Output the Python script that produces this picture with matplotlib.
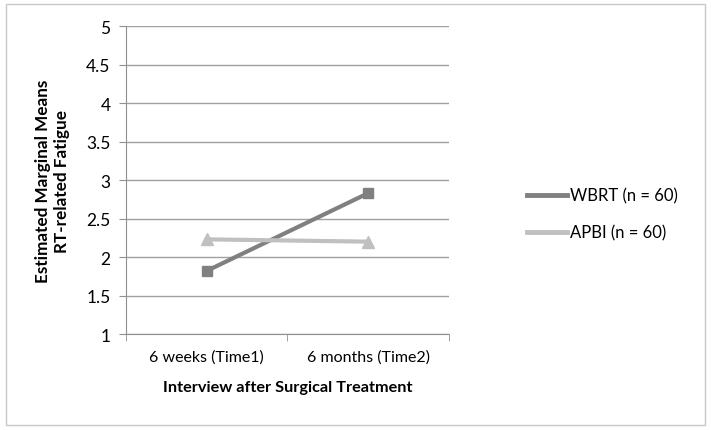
import matplotlib.pyplot as plt
from matplotlib.lines import Line2D
from matplotlib.patches import Rectangle

plt.rcParams['font.family'] = ['Lato', 'DejaVu Sans']

categories = ["6 weeks (Time1)", "6 months (Time2)"]
wbrt = [1.82, 2.83]
apbi = [2.23, 2.20]
yticks = [1, 1.5, 2, 2.5, 3, 3.5, 4, 4.5, 5]
ytick_labels = ["1", "1.5", "2", "2.5", "3", "3.5", "4", "4.5", "5"]
series_names = ["WBRT (n = 60)", "APBI (n = 60)"]
colors = ["#808080", "#c0c0c0"]

fig = plt.figure(figsize=(7.11, 4.31), dpi=100)
ax = fig.add_axes([0.177, 0.2227, 0.4545, 0.7143])

x = [1, 2]
ax.plot(x, wbrt, color=colors[0], lw=3, marker="s", markersize=7, zorder=3)
ax.plot(x, apbi, color=colors[1], lw=3, marker="^", markersize=8, zorder=3)

ax.set_xlim(0.5, 2.5)
ax.set_ylim(1, 5)
ax.set_yticks(yticks)
ax.set_yticklabels(ytick_labels, fontsize=12.5)
ax.set_xticks(x)
ax.set_xticklabels(categories, fontsize=11.5)
ax.set_xticks([0.5, 1.5, 2.5], minor=True)
ax.tick_params(axis="x", which="major", length=0, pad=11)
ax.tick_params(axis="x", which="minor", length=5, color="#909090")
ax.tick_params(axis="y", length=5, color="#909090", pad=6)

ax.grid(axis="y", color="#a0a0a0", lw=1)
ax.set_axisbelow(True)
for s in ["top", "right"]:
    ax.spines[s].set_visible(False)
for s in ["left", "bottom"]:
    ax.spines[s].set_color("#909090")

ax.set_xlabel("Interview after Surgical Treatment", fontsize=11.7,
              fontweight="bold", labelpad=12)
ax.set_ylabel("Estimated Marginal Means\nRT-related Fatigue", fontsize=12.3,
              fontweight="bold", labelpad=12)

handles = [Line2D([], [], color=c, lw=3.5) for c in colors]
ax.legend(handles, series_names, loc="center left", bbox_to_anchor=(1.22, 0.39),
          frameon=False, fontsize=12, handlelength=2.4, handletextpad=0.2,
          labelspacing=1.25, borderaxespad=0)

fig.patches.append(Rectangle((0.008, 0.012), 0.983, 0.976, transform=fig.transFigure,
                             fill=False, edgecolor="#c8c8c8", lw=1))

fig.savefig("out.png", dpi=100)
